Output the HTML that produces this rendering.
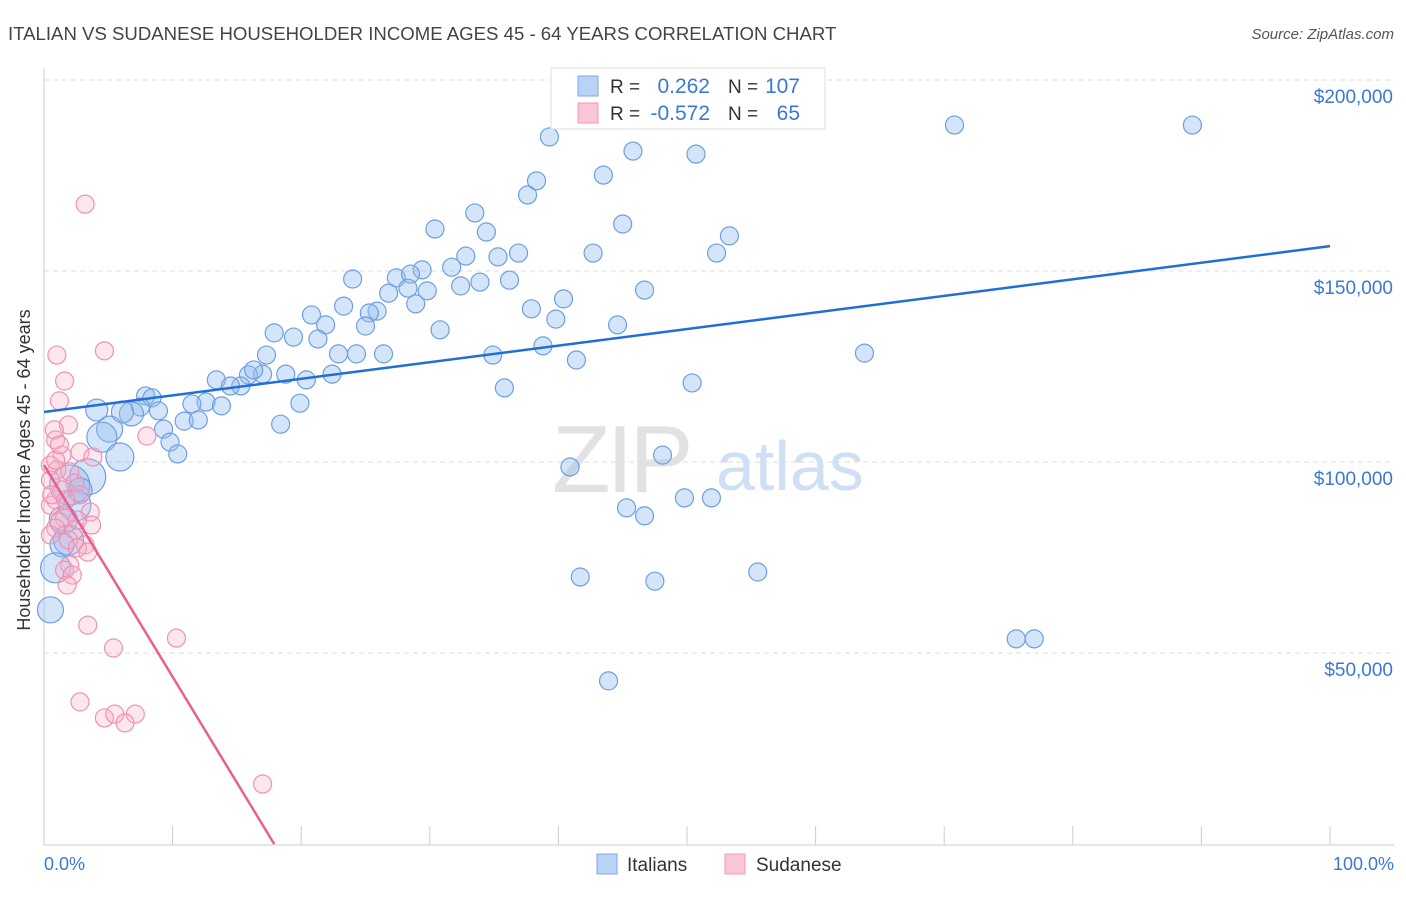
<!DOCTYPE html>
<html><head><meta charset="utf-8"><style>
body{margin:0;background:#fff;font-family:"Liberation Sans",sans-serif;}
svg text{font-family:"Liberation Sans",sans-serif;}
</style></head><body>
<svg id="chart" width="1406" height="892">
<text x="8" y="40" font-size="18.6" fill="#444">ITALIAN VS SUDANESE HOUSEHOLDER INCOME AGES 45 - 64 YEARS CORRELATION CHART</text>
<text x="1394" y="39" font-size="15" fill="#555" text-anchor="end" font-style="italic">Source: ZipAtlas.com</text>
<g><text x="552" y="492" font-size="96" fill="#e2e2e2" font-family="Liberation Serif" letter-spacing="-4">ZIP</text><text x="716" y="490" font-size="70" fill="#cfe0f5">atlas</text></g>
<g id="grid"></g>
<line x1="44" y1="68" x2="44" y2="845" stroke="#ccc"/>
<line x1="44" y1="845" x2="1394" y2="845" stroke="#ccc"/>
<g id="xticks"></g>
<g id="pts"></g>
<g id="lines"></g>
<text x="18" y="458" font-size="18" fill="#333" text-anchor="middle" transform="rotate(-90 30 458)">Householder Income Ages 45 - 64 years</text>
<text x="44" y="870" font-size="18" fill="#3a78d4">0.0%</text>
<text x="1394" y="870" font-size="18" fill="#3a78d4" text-anchor="end">100.0%</text>
<g>
<rect x="551" y="68" width="274" height="61" fill="#fff" stroke="#ddd"/>
<rect x="578" y="76" width="20" height="20" fill="#b8d3f5" stroke="#7fa9e6"/>
<rect x="578" y="103" width="20" height="20" fill="#f9c6d6" stroke="#f09ab6"/>
<text x="610" y="93" font-size="19" fill="#333">R =</text><text x="710" y="93" font-size="21" fill="#3a78d4" text-anchor="end">0.262</text>
<text x="728" y="93" font-size="19" fill="#333">N =</text><text x="800" y="93" font-size="21" fill="#3a78d4" text-anchor="end">107</text>
<text x="610" y="120" font-size="19" fill="#333">R =</text><text x="710" y="120" font-size="21" fill="#3a78d4" text-anchor="end">-0.572</text>
<text x="728" y="120" font-size="19" fill="#333">N =</text><text x="800" y="120" font-size="21" fill="#3a78d4" text-anchor="end">65</text>
</g>
<g><rect x="597" y="854" width="20" height="20" fill="#b8d3f5" stroke="#7fa9e6"/><text x="627" y="871" font-size="19" fill="#333">Italians</text></g>
<g><rect x="725" y="854" width="20" height="20" fill="#f9c6d6" stroke="#f09ab6"/><text x="756" y="871" font-size="19" fill="#333">Sudanese</text></g>
</svg>
<script>
const yTicks=[50,100,150,200];
const yTickLabels=["$50,000","$100,000","$150,000","$200,000"];
const xTickPcts=[0,10,20,30,40,50,60,70,80,90,100];
const blueX=[39.3,45.8,50.7,70.8,89.3,43.5,38.3,37.6,33.5,45.0,30.4,34.4,53.3,32.8,36.9,42.7,52.3,35.3,31.7,29.4,27.4,28.5,24.0,33.9,32.4,36.2,28.3,29.8,26.8,46.7,40.4,23.3,20.8,25.9,25.3,37.9,28.9,39.8,21.9,25.0,17.9,44.6,30.8,19.4,21.3,38.8,22.9,26.4,24.3,17.3,34.9,41.4,63.8,13.4,18.8,20.4,22.4,17.0,15.9,16.3,15.3,14.5,35.8,50.4,7.9,8.4,7.5,8.9,6.8,6.1,12.6,11.5,13.8,19.9,10.9,12.0,18.4,9.3,5.1,4.5,9.8,10.4,5.9,40.9,48.1,49.8,51.9,45.3,46.7,3.4,2.0,2.4,1.5,1.9,1.4,0.9,0.5,41.7,47.5,55.5,75.6,77.0,43.9,4.1,2.8];
const blueY=[185.1,181.4,180.6,188.2,188.2,175.1,173.6,169.9,165.2,162.3,161.0,160.2,159.2,153.9,154.7,154.7,154.7,153.7,151.0,150.3,148.2,149.2,147.9,147.1,146.1,147.6,145.5,144.8,144.2,145.0,142.7,140.8,138.5,139.5,139.0,140.1,141.4,137.4,135.9,135.6,133.8,135.9,134.6,132.7,132.2,130.4,128.3,128.3,128.3,128.0,128.0,126.7,128.5,121.5,123.0,121.5,123.0,123.0,122.8,124.1,119.9,119.9,119.4,120.7,117.3,116.8,114.4,113.4,112.6,113.1,115.7,115.2,114.7,115.4,110.7,111.0,109.9,108.6,108.6,106.5,105.2,102.1,101.3,98.7,101.8,90.6,90.6,88.0,85.9,96.1,94.0,88.7,84.8,79.6,78.3,72.3,61.3,69.9,68.8,71.2,53.7,53.7,42.7,113.6,92.7];
const blueSize=[9,9,9,9,9,9,9,9,9,9,9,9,9,9,9,9,9,9,9,9,9,9,9,9,9,9,9,9,9,9,9,9,9,9,9,9,9,9,9,9,9,9,9,9,9,9,9,9,9,9,9,9,9,9,9,9,9,9,9,9,9,9,9,9,9,9,9,9,12,11,9,9,9,9,9,9,9,9,13,15,9,9,14,9,9,9,9,9,9,18,20,16,14,15,12,15,13,9,9,9,9,9,9,11,12];
const pinkX=[3.2,1.0,4.7,1.6,1.2,1.9,8.0,0.9,0.8,2.8,1.4,0.5,3.8,1.0,2.0,0.5,2.4,1.4,2.8,0.9,0.5,3.6,1.6,1.2,3.7,0.9,2.4,0.5,1.9,3.2,2.6,3.4,2.0,1.6,2.2,1.8,3.4,10.3,5.4,2.8,4.7,5.5,7.1,6.3,17.0,0.9,1.2,0.6,2.6,1.7];
const pinkY=[167.5,128.0,129.1,121.2,116.0,109.7,106.8,105.8,108.4,102.6,101.8,99.2,101.3,97.9,97.4,95.3,94.5,92.7,91.4,90.1,88.7,86.9,85.3,84.3,83.5,82.7,82.2,80.9,79.6,78.3,77.5,76.4,73.0,71.7,70.4,67.8,57.3,53.9,51.3,37.2,33.0,34.0,34.0,31.7,15.7,100.5,104.5,91.4,84.8,90.1];
const blueTrend=[113.1,156.5];
const pinkTrend=[99.2,0,17.9];
const NS="http://www.w3.org/2000/svg";
const X0=44,X1=1330,Y0=844,PX_PER_K=3.82;
const xs=p=>X0+p/100*(X1-X0);
const ys=v=>Y0-v*PX_PER_K;
function mk(t,a,parent){const e=document.createElementNS(NS,t);for(const k in a)e.setAttribute(k,a[k]);document.getElementById(parent).appendChild(e);return e;}
yTicks.forEach((v,i)=>{
  const l=mk('line',{x1:44,x2:1394,y1:ys(v),y2:ys(v),stroke:'#ddd','stroke-dasharray':'5,4'},'grid');
  
  
  const t=mk('text',{x:1393,y:ys(v)+23,'font-size':19,fill:'#3a78d4','text-anchor':'end'},'grid');
  t.textContent=yTickLabels[i];
  
  
});
xTickPcts.forEach(p=>{
  const l=mk('line',{x1:xs(p),x2:xs(p),y1:826,y2:845,stroke:'#ccc'},'xticks');
  
  
});
blueX.forEach((x,i)=>{
  const c=mk('circle',{cx:xs(x),cy:ys(blueY[i]),r:blueSize[i],fill:'rgba(150,190,240,0.4)',stroke:'#6d9fe0','stroke-width':1.2},'pts');
  
  
});
pinkX.forEach((x,i)=>{
  const c=mk('circle',{cx:xs(x),cy:ys(pinkY[i]),r:9,fill:'rgba(248,175,200,0.3)',stroke:'#f091b2','stroke-width':1.2},'pts');
  
  
});
const bl=mk('line',{x1:xs(0),y1:ys(blueTrend[0]),x2:xs(100),y2:ys(blueTrend[1]),stroke:'#1f6fd6','stroke-width':2.5},'lines');


const pl=mk('line',{x1:xs(0),y1:ys(pinkTrend[0]),x2:xs(pinkTrend[2]),y2:ys(pinkTrend[1]),stroke:'#e8608f','stroke-width':2.5},'lines');


</script>
</body></html>
